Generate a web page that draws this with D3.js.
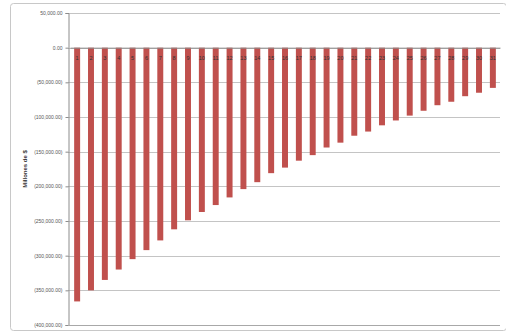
<!DOCTYPE html>
<html>
<head>
<meta charset="utf-8">
<script src="https://cdn.jsdelivr.net/npm/d3@7"></script>
<style>
  html, body { margin: 0; padding: 0; background: #fff; }
  svg { display: block; font-family: "Liberation Sans", Arial, sans-serif; }
</style>
</head>
<body>
<svg id="chart" width="506" height="332"></svg>
<script>
// Periods 1..31
const periods = d3.range(1, 32).map(String);
// Cumulative balance per period (thousands)
const balances = [
  -366000, -350000, -335000, -320000, -305000, -292000, -278000, -262000,
  -249000, -237000, -227000, -216000, -204000, -194000, -181000, -173000,
  -163000, -155000, -144000, -137000, -127000, -121000, -112000, -105000,
  -98000, -91000, -83000, -78000, -70000, -65000, -58000
];
// Value axis ticks
const yTicks = [50000, 0, -50000, -100000, -150000, -200000, -250000, -300000, -350000, -400000];
const yTitle = "Millones de $";

const svg = d3.select("#chart");
const margin = { left: 68, right: 6, top: 13, bottom: 7 };
const W = 506, H = 332;

// outer frame
svg.append("rect")
  .attr("x", 10.5).attr("y", 3.5)
  .attr("width", W - 10).attr("height", H - 5)
  .attr("rx", 3)
  .attr("fill", "#fff")
  .attr("stroke", "#c8c8c8");

const x = d3.scaleBand()
  .domain(periods)
  .range([margin.left + 2, W - margin.right])
  .paddingInner(0.57)
  .paddingOuter(0.3);

const y = d3.scaleLinear()
  .domain([-400000, 50000])
  .range([H - margin.bottom, margin.top]);

const fmt = v => {
  const s = d3.format(",.2f")(Math.abs(v));
  return v < 0 ? "(" + s + ")" : s;
};

// gridlines
svg.append("g")
  .selectAll("line")
  .data(yTicks.filter(t => t !== -400000))
  .join("line")
  .attr("x1", margin.left).attr("x2", W - margin.right)
  .attr("y1", d => Math.round(y(d)) + 0.5).attr("y2", d => Math.round(y(d)) + 0.5)
  .attr("stroke", "#c4c4c4")
  .attr("stroke-width", 1);

// value axis
const yAxis = d3.axisLeft(y)
  .tickValues(yTicks)
  .tickFormat(fmt)
  .tickSize(3)
  .tickPadding(3);

const gy = svg.append("g")
  .attr("transform", `translate(${margin.left + 0.5},0)`)
  .call(yAxis);
gy.select(".domain").attr("stroke", "#8c8c8c");
gy.selectAll(".tick line").attr("stroke", "#8c8c8c");
gy.selectAll(".tick text")
  .attr("font-size", 5)
  .attr("fill", "#555");

// bottom line of plot
svg.append("line")
  .attr("x1", margin.left).attr("x2", W - margin.right)
  .attr("y1", Math.round(y(-400000)) + 0.5).attr("y2", Math.round(y(-400000)) + 0.5)
  .attr("stroke", "#a8a8a8");

// bars
svg.append("g")
  .selectAll("rect")
  .data(balances)
  .join("rect")
  .attr("x", (d, i) => x(periods[i]))
  .attr("y", d => y(Math.max(0, d)))
  .attr("width", x.bandwidth())
  .attr("height", d => Math.abs(y(d) - y(0)))
  .attr("fill", "#c0504d");

// category axis on the zero line
const gx = svg.append("g")
  .attr("transform", `translate(0,${y(0)})`)
  .call(d3.axisBottom(x).tickSize(0).tickPadding(8));
gx.select(".domain").attr("stroke", "#8c8c8c");
gx.selectAll(".tick text")
  .attr("font-size", 5.5)
  .attr("fill", "#333");

// axis title
svg.append("text")
  .attr("transform", `translate(27,${(y(-100000) + y(-250000)) / 2}) rotate(-90)`)
  .attr("text-anchor", "middle")
  .attr("font-size", 6)
  .attr("font-weight", "bold")
  .attr("fill", "#333")
  .text(yTitle);
</script>
</body>
</html>
